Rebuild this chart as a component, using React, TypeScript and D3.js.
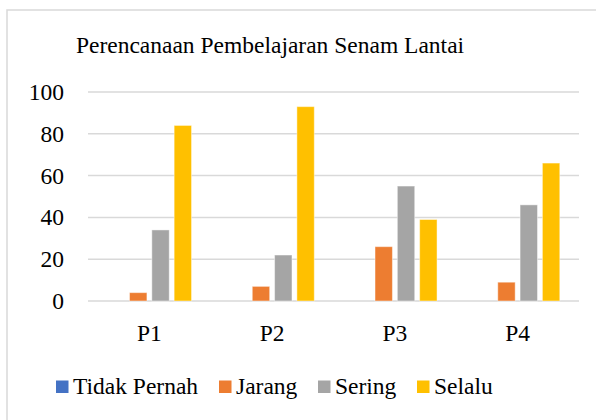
import React from 'react';
import * as d3 from 'd3';

const categories = ['P1', 'P2', 'P3', 'P4'];
const seriesNames = ['Tidak Pernah', 'Jarang', 'Sering', 'Selalu'];
const tidakPernah = [0, 0, 0, 0];
const jarang = [4, 7, 26, 9];
const sering = [34, 22, 55, 46];
const selalu = [84, 93, 39, 66];
const yTicks = [0, 20, 40, 60, 80, 100];
const colors = ['#4472c4', '#ed7d31', '#a5a5a5', '#ffc000'];

const App = () => {
  const width = 596;
  const height = 420;
  const font = "'Liberation Serif', 'Times New Roman', Times, 'DejaVu Serif', serif";
  const fontSize = 23.5;
  const textStyle = { fontFamily: font, fontSize: `${fontSize}px` };

  const values = [tidakPernah, jarang, sering, selalu];

  const x0 = d3.scaleBand<string>()
    .domain(categories)
    .range([88, 579])
    .paddingInner(0.273)
    .paddingOuter(0.1365);

  const x1 = d3.scaleBand<string>()
    .domain(seriesNames)
    .range([0, x0.bandwidth()])
    .paddingInner(0.22)
    .paddingOuter(0.11);

  const y = d3.scaleLinear().domain([0, 100]).range([301, 92]);

  // legend layout (left x of each swatch)
  const legendX = [56, 219, 318, 417];

  return (
    <svg width={width} height={height}
      style={{ position: 'fixed', left: 0, top: 0, background: '#fff' }}>
      <rect x={7} y={10} width={700} height={500} fill="#fff" stroke="#d9d9d9" strokeWidth={1.5} />

      <text x={270} y={53} textAnchor="middle" style={textStyle} fill="#000">
        Perencanaan Pembelajaran Senam Lantai
      </text>

      {yTicks.map(t => (
        <g key={t}>
          <line x1={88} x2={579} y1={y(t)} y2={y(t)} stroke="#d9d9d9" strokeWidth={1.5} />
          <text x={64} y={y(t)} dy="0.34em" textAnchor="end" style={textStyle} fill="#000">{t}</text>
        </g>
      ))}

      {categories.map((c, i) => (
        <g key={c} transform={`translate(${x0(c)},0)`}>
          {seriesNames.map((s, j) => (
            values[j][i] > 0 ? (
              <rect key={s}
                x={x1(s)}
                y={y(values[j][i])}
                width={x1.bandwidth()}
                height={y(0) - y(values[j][i])}
                fill={colors[j]}
                stroke="#ffffff"
                strokeOpacity={0.45}
                strokeWidth={1} />
            ) : null
          ))}
        </g>
      ))}

      {categories.map(c => (
        <text key={c} x={(x0(c) ?? 0) + x0.bandwidth() / 2} y={341}
          textAnchor="middle" style={textStyle} fill="#000">{c}</text>
      ))}

      {seriesNames.map((s, j) => (
        <g key={s}>
          <rect x={legendX[j]} y={380.5} width={12.5} height={12.5} fill={colors[j]} />
          <text x={legendX[j] + 17} y={394} style={textStyle} fill="#000">{s}</text>
        </g>
      ))}
    </svg>
  );
};

export default App;
